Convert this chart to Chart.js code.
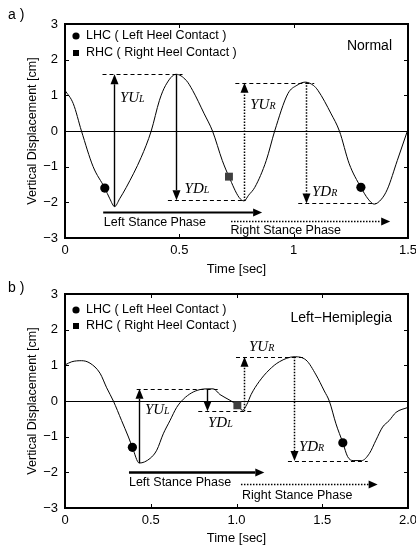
<!DOCTYPE html>
<html><head><meta charset="utf-8">
<script src="https://cdn.jsdelivr.net/npm/chart.js@4.4.1/dist/chart.umd.min.js"></script>
<style>
html,body{margin:0;padding:0;background:#fff;}
body{width:416px;height:547px;overflow:hidden;position:relative;}
canvas{position:absolute;left:0;}
#ca{top:0;z-index:1;}
#cb{top:273px;z-index:2;}
</style></head>
<body>
<canvas id="ca" width="416" height="285"></canvas>
<canvas id="cb" width="416" height="274"></canvas>
<script>
// ---------- shared ----------
const yTickLabels = ['−3','−2','−1','0','1','2','3'];
const legendNames = ['LHC ( Left Heel Contact )', 'RHC ( Right Heel Contact )'];
const phaseNames = ['Left Stance Phase', 'Right Stance Phase'];
const ampNames = [['YU','L'],['YD','L'],['YU','R'],['YD','R']];

// ---------- panel a : Normal ----------
const timeA = [0, 0.036, 0.072, 0.123, 0.174, 0.196, 0.217, 0.239, 0.268, 0.333, 0.377, 0.413, 0.44, 0.486, 0.53, 0.558, 0.609, 0.645, 0.688, 0.717, 0.761, 0.783, 0.803, 0.83, 0.88, 0.917, 0.975, 1.014, 1.05, 1.086, 1.106, 1.164, 1.2, 1.243, 1.294, 1.326, 1.352, 1.384, 1.41, 1.453, 1.5];
const dispA = [1.14, 0.77, 0, -1.0, -1.6, -1.9, -2.12, -1.9, -1.58, -0.74, 0, 0.86, 1.28, 1.59, 1.42, 1.14, 0.48, 0, -0.83, -1.28, -1.86, -1.96, -1.8, -1.58, -0.83, 0, 1.05, 1.28, 1.37, 1.28, 1.14, 0.48, 0, -0.92, -1.58, -1.91, -2.05, -1.91, -1.63, -0.83, 0.05];
const lhcTimeA = [0.174, 1.294];
const lhcDispA = [-1.6, -1.58];
const rhcTimeA = [0.717];
const rhcDispA = [-1.28];
const xTickLabelsA = ['0','0.5','1','1.5'];
const guideLevelA = [1.59, -1.94, 1.35, -2.03];
const guideFromA = [0.164, 0.45, 0.745, 1.02];
const guideToA = [0.514, 0.79, 1.09, 1.36];
const ampTimeA = [0.215, 0.486, 0.783, 1.053];
const ampFromA = [-2.12, 1.59, -1.96, 1.37];
const ampToA = [1.59, -1.94, 1.35, -2.03];
const phaseStartA = [0.167, 0.726];
const phaseEndA = [0.862, 1.422];
const phaseLevelA = [-2.26, -2.52];

// ---------- panel b : Left-Hemiplegia ----------
const timeB = [0, 0.039, 0.097, 0.146, 0.204, 0.243, 0.282, 0.33, 0.37, 0.393, 0.433, 0.496, 0.535, 0.573, 0.612, 0.651, 0.69, 0.739, 0.787, 0.83, 0.865, 0.904, 0.962, 1.005, 1.035, 1.06, 1.085, 1.133, 1.19, 1.25, 1.337, 1.405, 1.464, 1.512, 1.541, 1.58, 1.62, 1.648, 1.68, 1.73, 1.775, 1.813, 1.852, 1.89, 1.93, 2.0];
const dispB = [1.01, 1.10, 1.13, 1.06, 0.78, 0.37, 0, -0.55, -1.01, -1.30, -1.74, -1.61, -1.38, -0.92, -0.55, -0.18, 0.05, 0.23, 0.32, 0.34, 0.34, 0.18, 0.02, -0.12, -0.26, -0.1, 0.18, 0.55, 0.87, 1.10, 1.24, 1.15, 0.73, 0.28, 0, -0.64, -1.17, -1.56, -1.67, -1.67, -1.47, -1.10, -0.73, -0.55, -0.32, -0.18];
const lhcTimeB = [0.393, 1.62];
const lhcDispB = [-1.30, -1.17];
const rhcTimeB = [1.005];
const rhcDispB = [-0.12];
const xTickLabelsB = ['0','0.5','1.0','1.5','2.0'];
const guideLevelB = [0.34, -0.29, 1.24, -1.68];
const guideFromB = [0.418, 0.777, 0.997, 1.3];
const guideToB = [0.9, 1.095, 1.395, 1.765];
const ampTimeB = [0.433, 0.826, 1.045, 1.337];
const ampFromB = [-1.74, 0.34, -0.29, 1.24];
const ampToB = [0.34, -0.29, 1.24, -1.68];
const phaseStartB = [0.373, 1.026];
const phaseEndB = [1.162, 1.823];
const phaseLevelB = [-2.0, -2.32];

const FONT = '"Liberation Sans", Arial, sans-serif';
const SERIF = '"Liberation Serif", "Times New Roman", serif';

function pts(xs, ys){ return xs.map((x,i)=>({x:x, y:ys[i]})); }

function drawArrow(ctx, x1, y1, x2, y2, width, dash, headLen, headW){
  const ang = Math.atan2(y2 - y1, x2 - x1);
  const bx = x2 - Math.cos(ang) * headLen, by = y2 - Math.sin(ang) * headLen;
  ctx.save();
  ctx.strokeStyle = '#000'; ctx.fillStyle = '#000';
  ctx.lineWidth = width; ctx.setLineDash(dash);
  ctx.beginPath(); ctx.moveTo(x1, y1); ctx.lineTo(bx, by); ctx.stroke();
  ctx.setLineDash([]);
  ctx.beginPath();
  ctx.moveTo(x2, y2);
  ctx.lineTo(bx - Math.sin(ang) * headW / 2, by + Math.cos(ang) * headW / 2);
  ctx.lineTo(bx + Math.sin(ang) * headW / 2, by - Math.cos(ang) * headW / 2);
  ctx.closePath(); ctx.fill();
  ctx.restore();
}

function makeChart(id, d){
  const decor = {
    id: 'decor' + id,
    beforeDatasetsDraw(chart){
      const ctx = chart.ctx, xs = chart.scales.x, ys = chart.scales.y, a = chart.chartArea;
      ctx.save();
      ctx.strokeStyle = '#000'; ctx.lineWidth = 1;
      const y0 = Math.round(ys.getPixelForValue(0)) + 0.5;
      ctx.beginPath(); ctx.moveTo(a.left, y0); ctx.lineTo(a.right, y0); ctx.stroke();
      ctx.setLineDash([4, 3]); ctx.lineWidth = 1;
      d.guideLevel.forEach((lv, i) => {
        const yy = Math.round(ys.getPixelForValue(lv)) + 0.5;
        ctx.beginPath();
        ctx.moveTo(xs.getPixelForValue(d.guideFrom[i]), yy);
        ctx.lineTo(xs.getPixelForValue(d.guideTo[i]), yy);
        ctx.stroke();
      });
      ctx.restore();
      d.ampTime.forEach((t, i) => {
        const px = Math.round(xs.getPixelForValue(t)) + 0.5;
        const dotted = d.ampNames[i][1] === 'R';
        drawArrow(ctx, px, ys.getPixelForValue(d.ampFrom[i]), px, ys.getPixelForValue(d.ampTo[i]),
          dotted ? 1.5 : 1.4, dotted ? [1.5, 1.5] : [], 10, 8);
      });
      d.phaseStart.forEach((t, i) => {
        const py = Math.round(ys.getPixelForValue(d.phaseLevel[i])) + 0.5;
        const dotted = i === 1;
        drawArrow(ctx, xs.getPixelForValue(t), py, xs.getPixelForValue(d.phaseEnd[i]), py,
          dotted ? 1.6 : d.phaseWidth, dotted ? [1.5, 1.5] : [], 9, 8);
      });
    },
    afterDraw(chart){
      const ctx = chart.ctx, xs = chart.scales.x, ys = chart.scales.y, a = chart.chartArea;
      ctx.save();
      ctx.strokeStyle = '#000'; ctx.lineWidth = 1;
      xs.ticks.forEach(tk => {
        if (tk.value <= xs.min || tk.value >= xs.max) return;
        const px = Math.round(xs.getPixelForValue(tk.value)) + 0.5;
        ctx.beginPath(); ctx.moveTo(px, a.bottom); ctx.lineTo(px, a.bottom - 4);
        ctx.moveTo(px, a.top); ctx.lineTo(px, a.top + 4); ctx.stroke();
      });
      ys.ticks.forEach(tk => {
        if (tk.value <= ys.min || tk.value >= ys.max) return;
        const py = Math.round(ys.getPixelForValue(tk.value)) + 0.5;
        ctx.beginPath(); ctx.moveTo(a.left, py); ctx.lineTo(a.left + 4, py);
        ctx.moveTo(a.right, py); ctx.lineTo(a.right - 4, py); ctx.stroke();
      });
      ctx.lineWidth = 2;
      ctx.strokeRect(a.left, a.top, a.right - a.left, a.bottom - a.top);
      ctx.fillStyle = '#000'; ctx.textBaseline = 'alphabetic'; ctx.textAlign = 'left';
      d.ampNames.forEach((nm, i) => {
        const px = xs.getPixelForValue(d.ampLabelX[i]);
        const py = ys.getPixelForValue(d.ampLabelY[i]) + 5;
        ctx.font = 'italic 15px ' + SERIF;
        ctx.fillText(nm[0], px, py);
        const w = ctx.measureText(nm[0]).width;
        ctx.font = 'italic 10px ' + SERIF;
        ctx.fillText(nm[1], px + w, py);
      });
      ctx.font = '12.5px ' + FONT; ctx.textBaseline = 'middle';
      phaseNames.forEach((nm, i) => {
        ctx.fillText(nm, xs.getPixelForValue(d.phaseLabelX[i]), ys.getPixelForValue(d.phaseLabelY[i]));
      });
      const lx = a.left + 11;
      ctx.beginPath(); ctx.arc(lx, a.top + d.legY[0], 3.6, 0, Math.PI * 2); ctx.fill();
      ctx.fillRect(lx - 3, a.top + d.legY[1] - 3, 6, 6);
      ctx.font = '12.5px ' + FONT;
      legendNames.forEach((nm, i) => ctx.fillText(nm, a.left + 21, a.top + d.legY[i]));
      ctx.font = '14px ' + FONT; ctx.textAlign = 'right';
      ctx.fillText(d.condition, a.right - 16, a.top + d.condY);
      ctx.textAlign = 'left'; ctx.font = '14px ' + FONT;
      ctx.fillText(d.letter, 8, 15);
      ctx.font = '13px ' + FONT; ctx.textAlign = 'center';
      ctx.fillText('Time [sec]', (a.left + a.right) / 2, d.xTitleY);
      ctx.save();
      ctx.translate(33, (a.top + a.bottom) / 2);
      ctx.rotate(-Math.PI / 2);
      ctx.font = '12.5px ' + FONT;
      ctx.fillText('Vertical Displacement [cm]', 0, 0);
      ctx.restore();
      ctx.restore();
    }
  };

  return new Chart(document.getElementById(id), {
    type: 'line',
    data: {
      datasets: [
        { data: pts(d.time, d.disp), borderColor: '#000', borderWidth: 1, pointRadius: 0,
          cubicInterpolationMode: 'monotone', fill: false, order: 2 },
        { type: 'scatter', data: pts(d.lhcTime, d.lhcDisp), pointStyle: 'circle', pointRadius: 4.6,
          backgroundColor: '#000', borderColor: '#000', borderWidth: 0, order: 1 },
        { type: 'scatter', data: pts(d.rhcTime, d.rhcDisp), pointStyle: 'rect', pointRadius: 5.6,
          backgroundColor: '#3f3f3f', borderColor: '#3f3f3f', borderWidth: 0, order: 1 }
      ]
    },
    options: {
      responsive: false, animation: false, events: [],
      layout: { padding: { left: 0, right: 8, top: d.padTop, bottom: 0 } },
      plugins: { legend: { display: false }, tooltip: { enabled: false }, title: { display: false } },
      scales: {
        x: {
          type: 'linear', min: 0, max: d.xMax,
          grid: { display: false, drawTicks: false, tickLength: 0 }, border: { display: false },
          ticks: { stepSize: 0.5, padding: 5, color: '#000', maxRotation: 0, autoSkip: false,
            font: { family: FONT, size: 13 },
            callback: (v, i) => d.xLabels[i] },
          afterFit: s => { s.height = d.xAxisH; s.paddingLeft = 0; s.paddingRight = 0; }
        },
        y: {
          min: -3, max: 3,
          grid: { display: false, drawTicks: false, tickLength: 0 }, border: { display: false },
          ticks: { stepSize: 1, padding: 7, color: '#000', font: { family: FONT, size: 13 },
            callback: (v, i) => yTickLabels[i] },
          afterFit: s => { s.width = 65; s.paddingTop = 0; s.paddingBottom = 0; }
        }
      }
    },
    plugins: [decor]
  });
}

makeChart('ca', {
  time: timeA, disp: dispA, lhcTime: lhcTimeA, lhcDisp: lhcDispA, rhcTime: rhcTimeA, rhcDisp: rhcDispA,
  xLabels: xTickLabelsA, xMax: 1.5, padTop: 24, xAxisH: 47, xTitleY: 269,
  guideLevel: guideLevelA, guideFrom: guideFromA, guideTo: guideToA,
  ampNames: ampNames, ampTime: ampTimeA, ampFrom: ampFromA, ampTo: ampToA,
  ampLabelX: [0.24, 0.523, 0.81, 1.08], ampLabelY: [0.94, -1.59, 0.77, -1.68],
  phaseStart: phaseStartA, phaseEnd: phaseEndA, phaseLevel: phaseLevelA, phaseWidth: 2,
  phaseLabelX: [0.17, 0.724], phaseLabelY: [-2.57, -2.8],
  legY: [12, 29], condition: 'Normal', condY: 22, letter: 'a )'
});

makeChart('cb', {
  time: timeB, disp: dispB, lhcTime: lhcTimeB, lhcDisp: lhcDispB, rhcTime: rhcTimeB, rhcDisp: rhcDispB,
  xLabels: xTickLabelsB, xMax: 2.0, padTop: 21, xAxisH: 39, xTitleY: 265,
  guideLevel: guideLevelB, guideFrom: guideFromB, guideTo: guideToB,
  ampNames: ampNames, ampTime: ampTimeB, ampFrom: ampFromB, ampTo: ampToB,
  ampLabelX: [0.466, 0.834, 1.073, 1.364], ampLabelY: [-0.22, -0.6, 1.54, -1.27],
  phaseStart: phaseStartB, phaseEnd: phaseEndB, phaseLevel: phaseLevelB, phaseWidth: 2.6,
  phaseLabelX: [0.373, 1.032], phaseLabelY: [-2.3, -2.64],
  legY: [16, 32], condition: 'Left−Hemiplegia', condY: 24, letter: 'b )'
});
</script>
</body></html>
